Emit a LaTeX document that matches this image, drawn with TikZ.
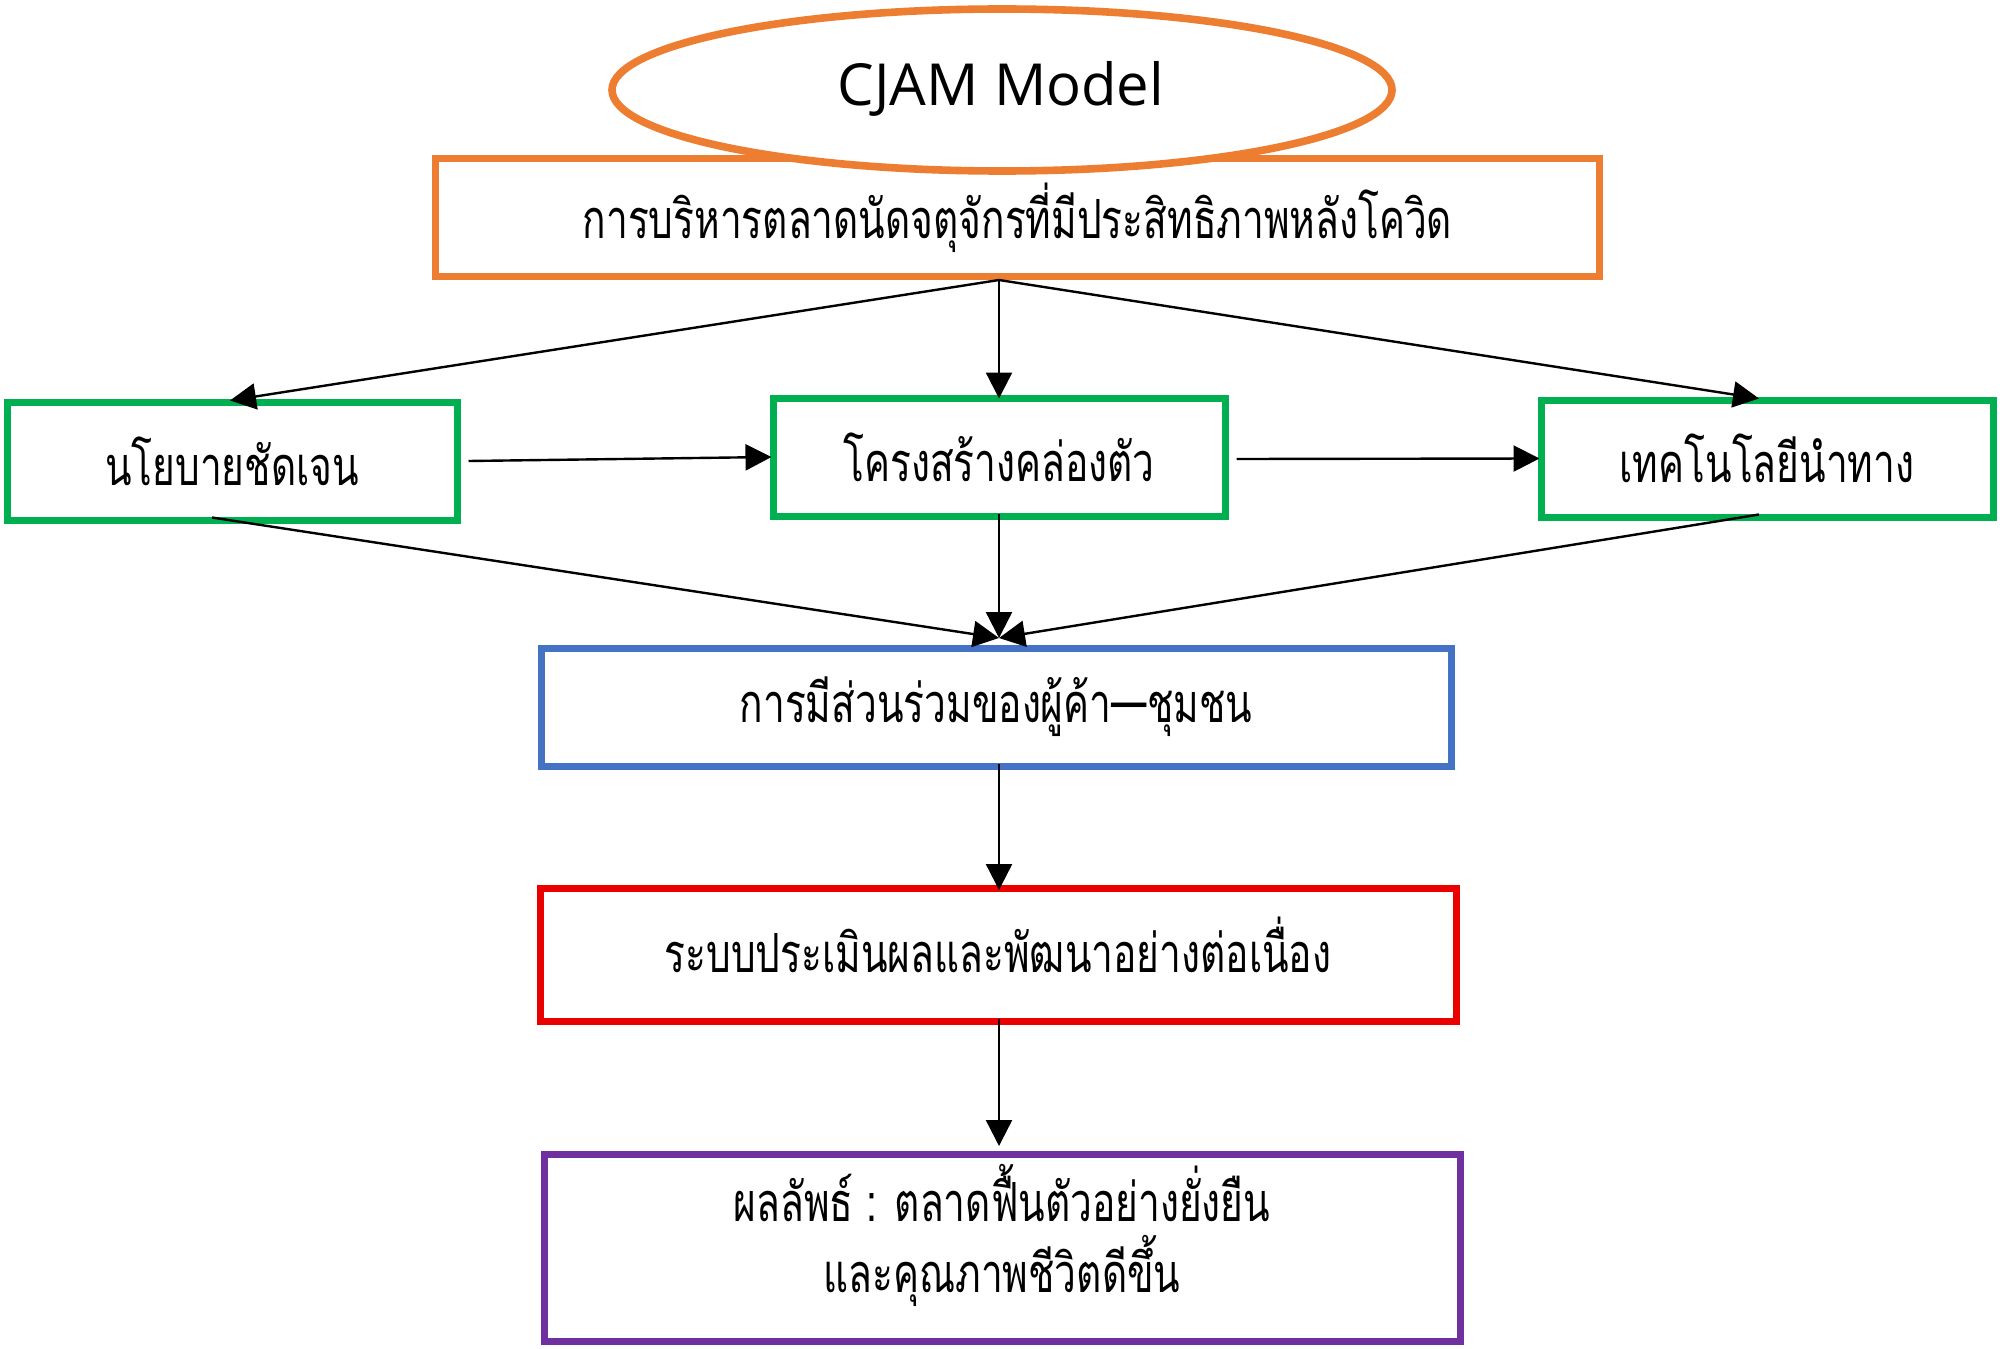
\documentclass[tikz,border=0pt]{standalone}
\usepackage{fontspec}
\setmainfont{Noto Sans}
\newfontfamily\thaifont[Script=Thai,FakeStretch=0.72]{Loma}
\newfontfamily\titlefont{Open Sans}
\usetikzlibrary{arrows.meta}

\definecolor{cjamorange}{RGB}{237,125,49}
\definecolor{cjamgreen}{RGB}{0,176,80}
\definecolor{cjamblue}{RGB}{68,114,196}
\definecolor{cjamred}{RGB}{235,0,0}
\definecolor{cjampurple}{RGB}{112,48,160}

\tikzset{every picture/.style={line width=0.75pt}}
\tikzset{
  stepbox/.style={draw, line width=3.5pt, fill=white, inner sep=0pt, align=center,
    font=\thaifont\fontsize{27}{35.5}\selectfont},
  steptext/.style={inner sep=0pt, align=center, font=\thaifont\fontsize{27}{35.5}\selectfont},
  flow/.style={draw=black, line width=1.2pt, -{Triangle[length=13pt,width=13pt]}}
}

\begin{document}
\begin{tikzpicture}[x=0.5pt,y=0.5pt,yscale=-1,xscale=1]
		\useasboundingbox (0,0) rectangle (2000,1348);
		
		%Shape: Rectangle
		\node [stepbox, draw=cjamorange, minimum width=582pt, minimum height=58.5pt] (mgmt) at (1017.5,217.5) {การบริหารตลาดนัดจตุจักรที่มีประสิทธิภาพหลังโควิด};
		%Shape: Ellipse
		\draw [color=cjamorange, line width=3.8pt, fill=white] (1002,90) ellipse (390 and 81);
		% Text Node
		\node [inner sep=0pt, font=\titlefont\fontsize{29}{34}\selectfont] (title) at (1001,89) {CJAM Model};
		
		%Shape: Rectangle
		\node [stepbox, draw=cjamgreen, minimum width=225pt, minimum height=59pt] (policy) at (232,461) {นโยบายชัดเจน};
		%Shape: Rectangle
		\node [stepbox, draw=cjamgreen, minimum width=226pt, minimum height=59pt] (struct) at (999,457) {โครงสร้างคล่องตัว};
		%Shape: Rectangle
		\node [stepbox, draw=cjamgreen, minimum width=226pt, minimum height=58.5pt] (tech) at (1767,458.5) {เทคโนโลยีนำทาง};
		%Shape: Rectangle
		\node [stepbox, draw=cjamblue, minimum width=455pt, minimum height=59pt] (part) at (996,707) {การมีส่วนร่วมของผู้ค้า—ชุมชน};
		%Shape: Rectangle
		\node [stepbox, draw=cjamred, minimum width=458pt, minimum height=66.5pt] (eval) at (998,954.5) {};
		%Shape: Rectangle
		\node [stepbox, draw=cjampurple, minimum width=458pt, minimum height=93.5pt] (result) at (1002,1247.5) {};
		
		% Text Node
		\node [steptext] (evaltxt) at (998,945) {ระบบประเมินผลและพัฒนาอย่างต่อเนื่อง};
		% Text Node
		\node [steptext] (resulttxt) at (1002,1235) {ผลลัพธ์ : ตลาดฟื้นตัวอย่างยั่งยืน\\และคุณภาพชีวิตดีขึ้น};
		
		\coordinate (fork) at (999,280);
		\coordinate (join) at (999,638);
		\coordinate (evaltop) at (999,890);
		\coordinate (resulttop) at (999,1146);
		
		%Straight Lines
		\draw [flow] (fork) -- ([xshift=-1pt,yshift=1pt]policy.north);
		\draw [flow] (fork) -- ([yshift=2pt]struct.north);
		\draw [flow] (fork) -- ([xshift=-4pt,yshift=1pt]tech.north);
		%Straight Lines
		\draw [flow] ([xshift=4pt]policy.east) -- ([xshift=1pt]struct.west);
		\draw [flow] ([xshift=4pt,yshift=1pt]struct.east) -- ([xshift=1pt]tech.west);
		%Straight Lines
		\draw [flow] ([xshift=-10pt,yshift=-3pt]policy.south) -- (join);
		\draw [flow] ([yshift=-3pt]struct.south) -- (join);
		\draw [flow] ([xshift=-4pt,yshift=-3pt]tech.south) -- (join);
		%Straight Lines
		\draw [flow] ([xshift=1.5pt,yshift=-3pt]part.south) -- (evaltop);
		\draw [flow] ([xshift=0.5pt,yshift=-3pt]eval.south) -- (resulttop);
\end{tikzpicture}
\end{document}
